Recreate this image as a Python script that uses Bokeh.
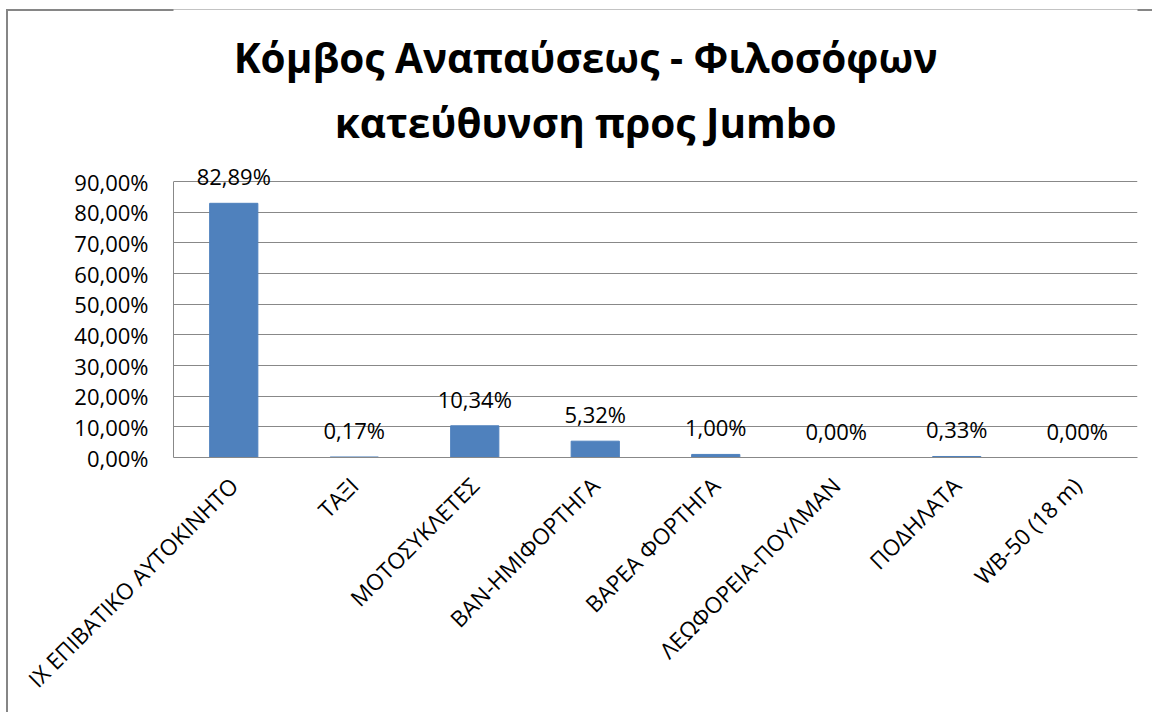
import math
from bokeh.plotting import figure
from bokeh.models import Range1d, FixedTicker, LabelSet, ColumnDataSource, Label
from bokeh.core.properties import value
from bokeh.embed import file_html
from bokeh.resources import INLINE

# ---- data ----
categories = ["ΙΧ ΕΠΙΒΑΤΙΚΟ ΑΥΤΟΚΙΝΗΤΟ", "ΤΑΞΙ", "ΜΟΤΟΣΥΚΛΕΤΕΣ", "ΒΑΝ-ΗΜΙΦΟΡΤΗΓΑ",
              "ΒΑΡΕΑ ΦΟΡΤΗΓΑ", "ΛΕΩΦΟΡΕΙΑ-ΠΟΥΛΜΑΝ", "ΠΟΔΗΛΑΤΑ", "WB-50 (18 m)"]
shares = [82.89, 0.17, 10.34, 5.32, 1.00, 0.00, 0.33, 0.00]
y_ticks = [0, 10, 20, 30, 40, 50, 60, 70, 80, 90]
title_lines = ["Κόμβος Αναπαύσεως - Φιλοσόφων", "κατεύθυνση προς Jumbo"]


def pct(v):
    return f"{v:.2f}".replace(".", ",") + "%"


FONT = "Open Sans"
GRID = "#888888"

OX, OY = 6, 9               # figure origin on the page
W, H = 1155 - OX - 3, 715 - OY - 3
FRAME_BOTTOM = 457 - OY     # px from figure top
PX_PER_UNIT = 276 / 90      # px per percentage point
YMAX = FRAME_BOTTOM / PX_PER_UNIT

xs = [i + 0.5 for i in range(len(categories))]
src = ColumnDataSource(dict(x=xs, top=shares, lbl=[pct(v) for v in shares]))

p = figure(width=W, height=H, output_backend="svg", toolbar_location=None,
           x_range=Range1d(0, len(categories)), y_range=Range1d(0, YMAX),
           min_border_left=173 - OX, min_border_right=W - (1137 - OX),
           min_border_top=0, min_border_bottom=H - FRAME_BOTTOM)
p.margin = (OY, 0, 0, OX)
p.styles = {"box-shadow": "inset 2px 2px 0 0 #868686", "background-color": "white"}
p.outline_line_color = None
p.background_fill_color = "white"
p.border_fill_color = None

p.vbar(x="x", top="top", width=0.4, source=src, fill_color="#4F81BD",
       line_color="#4F81BD")

p.add_layout(LabelSet(x="x", y="top", text="lbl", source=src, y_offset=27,
                      text_align="center", text_baseline="middle",
                      text_font=value(FONT), text_font_size="22px",
                      text_color="black"))

title_y = [130.3, 109.3]
for line, ty in zip(title_lines, title_y):
    p.add_layout(Label(x=3.42, y=ty, text=line, text_align="center",
                       text_baseline="middle", text_font=FONT,
                       text_font_size="40.5px", text_font_style="bold",
                       text_color="black"))

# y axis
p.yaxis.ticker = FixedTicker(ticks=y_ticks)
p.yaxis.bounds = (0, 90)
p.yaxis.major_label_overrides = {t: pct(t) for t in y_ticks}
p.yaxis.major_tick_out = 0
p.yaxis.major_tick_in = 0
p.yaxis.minor_tick_out = 0
p.yaxis.minor_tick_in = 0
p.yaxis.axis_line_color = GRID
p.yaxis.major_label_standoff = 25
p.yaxis.major_label_text_font = FONT
p.yaxis.major_label_text_font_size = "22px"
p.yaxis.major_label_text_color = "black"

# x axis
p.xaxis.ticker = FixedTicker(ticks=xs)
p.xaxis.major_label_overrides = {x: c for x, c in zip(xs, categories)}
p.xaxis.major_tick_out = 0
p.xaxis.major_tick_in = 0
p.xaxis.minor_tick_out = 0
p.xaxis.minor_tick_in = 0
p.xaxis.axis_line_color = GRID
p.xaxis.major_label_orientation = math.pi / 4
p.xaxis.major_label_standoff = 24
p.xaxis.major_label_text_font = FONT
p.xaxis.major_label_text_font_size = "22.5px"
p.xaxis.major_label_text_color = "black"

p.xgrid.visible = False
p.ygrid.ticker = FixedTicker(ticks=y_ticks)
p.ygrid.grid_line_color = GRID
p.ygrid.grid_line_width = 1

open("out.html", "w").write(file_html(p, INLINE))
